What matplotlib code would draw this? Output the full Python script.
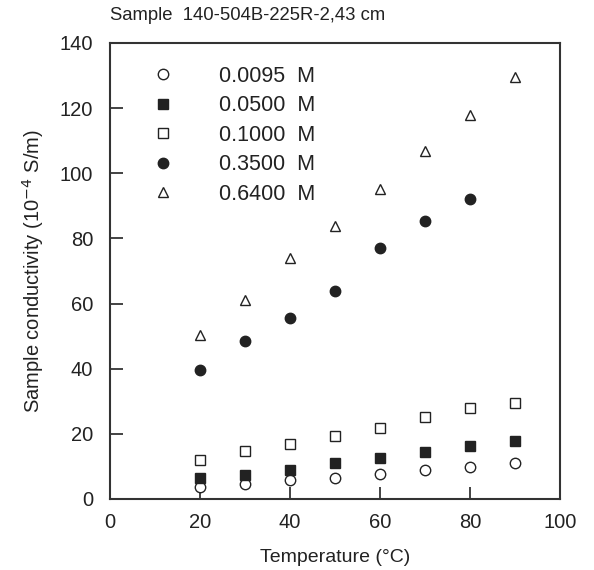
import matplotlib
matplotlib.use("Agg")
import matplotlib.pyplot as plt

plt.rcParams['font.family'] = ['Liberation Sans', 'DejaVu Sans']

temps = [20, 30, 40, 50, 60, 70, 80, 90]
temps_035 = [20, 30, 40, 50, 60, 70, 80]
c_00095 = [3.6, 4.5, 5.7, 6.5, 7.7, 8.8, 9.8, 10.9]
c_0050 = [6.4, 7.5, 8.9, 11.1, 12.7, 14.5, 16.2, 17.8]
c_0100 = [11.9, 14.8, 17.0, 19.4, 21.8, 25.3, 27.8, 29.4]
c_0350 = [39.7, 48.6, 55.7, 63.9, 77.2, 85.3, 92.1]
c_0640 = [50.5, 61.0, 74.0, 83.9, 95.2, 106.9, 117.9, 129.7]
labels = ["0.0095  M", "0.0500  M", "0.1000  M", "0.3500  M", "0.6400  M"]
xticks = [0, 20, 40, 60, 80, 100]
yticks = [0, 20, 40, 60, 80, 100, 120, 140]

fig = plt.figure(figsize=(5.94, 5.70), dpi=100)
ax = fig.add_axes([110/594, 71/570, 450/594, 456/570])
col = '#222222'
ms = 7.5
ax.plot(temps, c_00095, 'o', ms=ms, mfc='white', mec=col, mew=1.0, ls='none', label=labels[0])
ax.plot(temps, c_0050, 's', ms=ms, mfc=col, mec=col, mew=1.0, ls='none', label=labels[1])
ax.plot(temps, c_0100, 's', ms=ms, mfc='white', mec=col, mew=1.0, ls='none', label=labels[2])
ax.plot(temps_035, c_0350, 'o', ms=ms, mfc=col, mec=col, mew=1.0, ls='none', label=labels[3])
ax.plot(temps, c_0640, '^', ms=ms, mfc='white', mec=col, mew=1.0, ls='none', label=labels[4])

ax.set_xlim(0, 100)
ax.set_ylim(0, 140)
ax.set_xticks(xticks)
ax.set_yticks(yticks)
ax.tick_params(direction='in', length=9, width=1.2, labelsize=14.5, colors=col)
ax.tick_params(axis='y', pad=12)
ax.tick_params(axis='x', pad=10)
for s in ax.spines.values():
    s.set_linewidth(1.5)
    s.set_color('#333333')

ax.set_xlabel("Temperature (°C)", fontsize=14, color=col, labelpad=12)
ax.set_ylabel("Sample conductivity (10$^{-4}$ S/m)", fontsize=14.5, color=col, labelpad=10)
fig.text(110/594, 1 - 16/570, "Sample  140-504B-225R-2,43 cm", fontsize=13.3, color=col, va='center', ha='left')

leg = ax.legend(loc='upper left', bbox_to_anchor=(0.047, 0.993), frameon=False,
                fontsize=15.5, handletextpad=2.0, labelspacing=0.40, markerscale=1.0,
                handlelength=1.2)
for t in leg.get_texts():
    t.set_color(col)

fig.savefig("out.png", dpi=100)
